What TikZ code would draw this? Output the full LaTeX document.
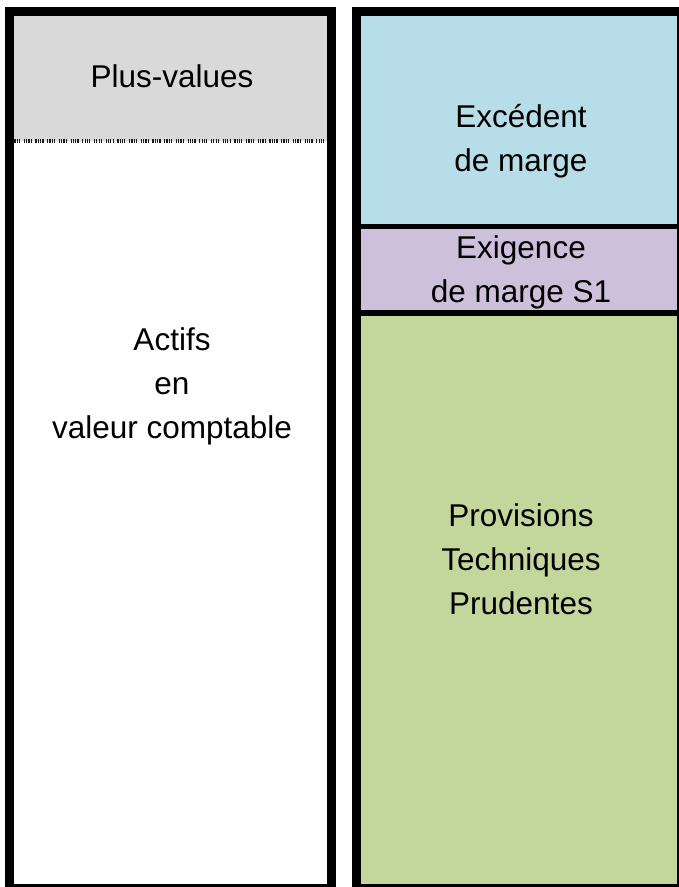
\documentclass[tikz,border=0pt]{standalone}
\usepackage{fontspec}
\setmainfont{Liberation Sans}
\definecolor{pvgray}{HTML}{D9D9D9}
\definecolor{exblue}{HTML}{B7DDE8}
\definecolor{expurple}{HTML}{CCC0DA}
\definecolor{pvgreen}{HTML}{C3D69B}
\begin{document}
\begin{tikzpicture}[x=1pt,y=-1pt,
  frame/.style={draw=black,line width=9pt},
  divider/.style={draw=black,line width=5.5pt},
  lbl/.style={align=center,font=\fontsize{31.5}{44}\selectfont,inner sep=0pt}]
\useasboundingbox (0,0) rectangle (679,887);
\begin{scope}
\clip (0,0) rectangle (679,887);
% left column
\fill[pvgray] (9.5,11.5) rectangle (331,141);
\fill[white] (9.5,141) rectangle (331,888.5);
\draw[color=black!90,line width=4pt,dash pattern=on 1.2pt off 1.1pt on 1.2pt off 1.1pt on 1.2pt off 1.1pt on 1.2pt off 3.6pt] (12,141) -- (327,141);
\draw[frame] (9.5,11.5) rectangle (331,888.5);
% right column
\fill[exblue] (356.5,11.5) rectangle (681.5,226.5);
\fill[expurple] (356.5,226.5) rectangle (681.5,313);
\fill[pvgreen] (356.5,313) rectangle (681.5,888.5);
\draw[divider] (356.5,226.5) -- (681.5,226.5);
\draw[divider,line width=6pt] (356.5,313) -- (681.5,313);
\draw[frame] (356.5,11.5) rectangle (681.5,888.5);
\end{scope}
\node[lbl] (plus) at (172,76) {Plus-values};
\node[lbl] (actifs) at (172,386) {Actifs\\en\\valeur comptable};
\node[lbl] (exc) at (521,141) {Excédent\\de marge};
\node[lbl] (exig) at (521,272) {Exigence\\de marge S1};
\node[lbl] (prov) at (521,559) {Provisions\\Techniques\\Prudentes};
\end{tikzpicture}
\end{document}
